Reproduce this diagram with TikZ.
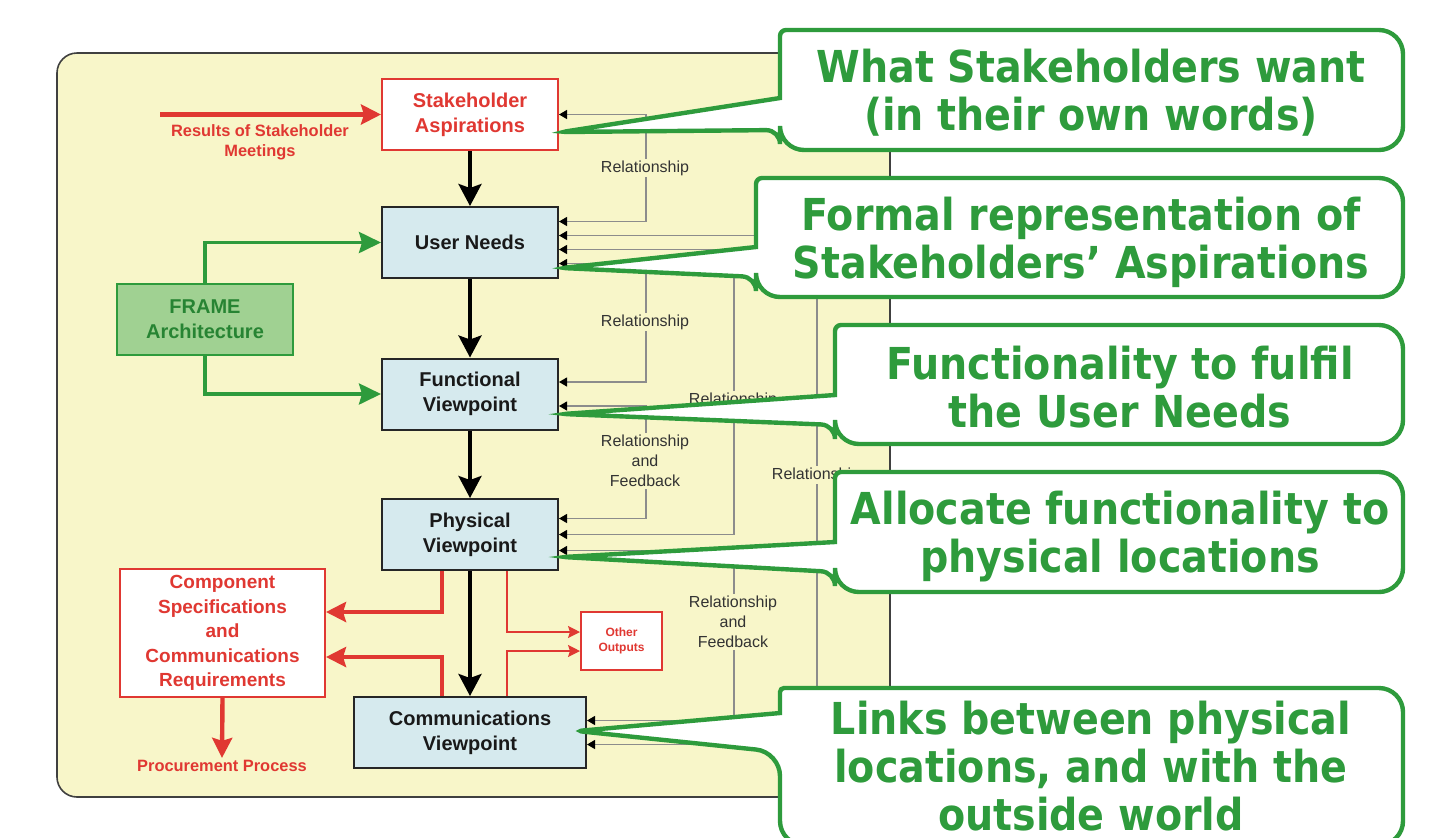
\documentclass[tikz,border=0pt]{standalone}
\usepackage{fontspec}
\setmainfont{Liberation Sans}
\newfontfamily\bulleFont[FakeStretch=0.9]{DejaVu Sans}
\usetikzlibrary{calc,arrows.meta}
\definecolor{monJaune}{RGB}{248,246,201}
\definecolor{monBleu}{RGB}{214,234,238}
\definecolor{monRouge}{RGB}{224,56,50}
\definecolor{monVert}{RGB}{46,155,60}
\definecolor{monVertClair}{RGB}{160,209,146}
\definecolor{monGris}{RGB}{140,140,140}

\begin{document}
\begin{tikzpicture}[x=0.5pt,y=-0.5pt,
    boite/.style={draw=black!85,line width=1pt,fill=monBleu,minimum width=88pt,minimum height=35.5pt,
      inner sep=0pt,align=center,text=black!90,font=\fontsize{10}{12.5}\selectfont\bfseries},
    boiteR/.style={boite,draw=monRouge,fill=white,text=monRouge},
    fleche/.style={line width=1.8pt,-{Stealth[length=11pt,width=11.5pt,inset=2pt]}},
    flecheR/.style={monRouge,line width=2.2pt,-{Stealth[length=10pt,width=10pt,inset=1.5pt]}},
    flecheV/.style={monVert,line width=1.8pt,-{Stealth[length=11pt,width=10.5pt,inset=1.5pt]}},
    filR/.style={monRouge,line width=0.75pt,-{Stealth[length=6pt,width=6pt,inset=1pt]}},
    lien/.style={monGris,line width=0.6pt,
      {Triangle[length=4pt,width=4.5pt,color=black]}-{Triangle[length=4pt,width=4.5pt,color=black]}},
    etiq/.style={fill=monJaune,inner sep=1pt,align=center,text=black!80,font=\fontsize{8}{10}\selectfont},
    etiqR/.style={inner sep=1pt,align=center,text=monRouge,font=\fontsize{8.2}{10}\selectfont\bfseries},
    bulle/.style={draw=monVert,line width=2.2pt,fill=white},
    texteBulle/.style={text=monVert,align=center,font=\fontsize{22}{24}\bulleFont\bfseries}]

    % Cadre
    \useasboundingbox (0,0) rectangle (1440,837);
    \fill[white] (0,0) rectangle (1440,837);
    \draw[line width=0.8pt,draw=black!75,fill=monJaune,rounded corners=10pt] (57,53) rectangle (890,797);

    % Les boites de la chaine
    \node[boiteR] (SA) at (470,114.5) {Stakeholder\\Aspirations};
    \node[boite] (UN) at (470,242.5) {User Needs};
    \node[boite] (FV) at (470,394) {Functional\\Viewpoint};
    \node[boite] (PV) at (470,534.5) {Physical\\Viewpoint};
    \node[boite,minimum width=116pt] (CV) at (470,732.5) {Communications\\Viewpoint};

    % Boites annexes
    \node[boite,draw=monVert,fill=monVertClair,text=monVert!85!black] (FR) at (205,319) {FRAME\\Architecture};
    \node[boiteR,minimum width=102.5pt,minimum height=64pt,font=\fontsize{9.5}{12.3}\selectfont\bfseries] (CS)
      at (222.5,633) {Component\\Specifications\\and\\Communications\\Requirements};
    \node[boiteR,minimum width=40.5pt,minimum height=29pt,font=\fontsize{6}{7.5}\selectfont\bfseries] (OO)
      at (621.5,641) {Other\\Outputs};

    % Liens de relation (gris)
    \draw[lien] (SA.east) -- ++(87,0) |- ($(UN.east)+(0,-21)$);
    \draw[lien] ($(UN.east)+(0,21)$) -- ++(87,0) |- ($(FV.east)+(0,-12)$);
    \draw[lien] ($(FV.east)+(0,12)$) -- ++(87,0) |- ($(PV.east)+(0,-16)$);
    \draw[lien] ($(UN.east)+(0,7)$) -- ++(175,0) |- (PV.east);
    \draw[lien] ($(PV.east)+(0,16)$) -- ++(175,0) |- ($(CV.east)+(0,-12)$);
    \draw[lien] ($(UN.east)+(0,-7)$) -- ++(258,0) |- ($(CV.east)+(0,12)$);

    \node[etiq] (r1) at (645,168) {Relationship};
    \node[etiq] (r2) at (645,322) {Relationship};
    \node[etiq] (r3) at (645,461) {Relationship\\and\\Feedback};
    \node[etiq] (r4) at (733,400) {Relationship};
    \node[etiq] (r5) at (733,622) {Relationship\\and\\Feedback};
    \node[etiq] (r6) at (816,475) {Relationship};

    % Fleches principales
    \draw[fleche] (SA) -- (UN);
    \draw[fleche] (UN) -- (FV);
    \draw[fleche] (FV) -- (PV);
    \draw[fleche] (PV) -- (CV);

    % Entree des reunions
    \coordinate (RS) at (160,114.5);
    \draw[flecheR] (RS) -- (SA.west);
    \node[etiqR] (RSt) at (260,142) {Results of Stakeholder\\Meetings};

    % FRAME
    \draw[flecheV] (FR.north) |- (UN.west);
    \draw[flecheV] (FR.south) |- (FV.west);

    % Sorties
    \draw[flecheR] ($(PV.south)+(-28,0)$) |- ($(CS.east)+(0,-21)$);
    \draw[flecheR] ($(CV.north)+(-28,0)$) |- ($(CS.east)+(0,24)$);
    \node[etiqR] (PP) at (222,766) {Procurement Process};
    \draw[flecheR] (CS.south) -- (PP.north);
    \draw[filR] ($(PV.south)+(37,0)$) |- ($(OO.west)+(0,-9)$);
    \draw[filR] ($(CV.north)+(37,0)$) |- ($(OO.west)+(0,10)$);

    % Bulles de commentaire (pointe nette, coins arrondis)
    \draw[bulle] (1091,30) [rounded corners=12pt] -- (1403,30) -- (1403,150) -- (780,150)
      [rounded corners=7pt] -- (780,130) [rounded corners=2pt] -- (562,132)
      [sharp corners] -- (780,98) [rounded corners=3pt] -- (780,30) [rounded corners=12pt] -- cycle;
    \node[texteBulle] (b1) at (1091,93) {What Stakeholders want\\(in their own words)};

    \draw[bulle] (1080,178) [rounded corners=12pt] -- (1403,178) -- (1403,297) -- (756,297)
      [rounded corners=7pt] -- (756,277) [rounded corners=2pt] -- (562,268)
      [sharp corners] -- (756,247) [rounded corners=3pt] -- (756,178) [rounded corners=12pt] -- cycle;
    \node[texteBulle] (b2) at (1081,242) {Formal representation of\\Stakeholders’ Aspirations};

    \draw[bulle] (1120,325) [rounded corners=12pt] -- (1403,325) -- (1403,444) -- (835,444)
      [rounded corners=7pt] -- (835,425) [rounded corners=2pt] -- (563,414)
      [sharp corners] -- (835,395) [rounded corners=3pt] -- (835,325) [rounded corners=12pt] -- cycle;
    \node[texteBulle] (b3) at (1120,387) {Functionality to fulfil\\the User Needs};

    \draw[bulle] (1120,472) [rounded corners=12pt] -- (1403,472) -- (1403,592) -- (835,592)
      [rounded corners=7pt] -- (835,572) [rounded corners=2pt] -- (563,557)
      [sharp corners] -- (835,542) [rounded corners=3pt] -- (835,472) [rounded corners=12pt] -- cycle;
    \node[texteBulle] (b4) at (1120,537) {Allocate functionality to\\physical locations};

    \draw[bulle] (1091,688) [rounded corners=12pt] -- (1403,688) -- (1403,845) -- (780,845)
      -- (780,752) [rounded corners=3pt] -- (577,731)
      [sharp corners] -- (780,713) [rounded corners=2pt] -- (780,688) [rounded corners=8pt] -- cycle;
    \node[texteBulle] (b5) at (1091,766) {Links between physical\\locations, and with the\\outside world};
\end{tikzpicture}
\end{document}
